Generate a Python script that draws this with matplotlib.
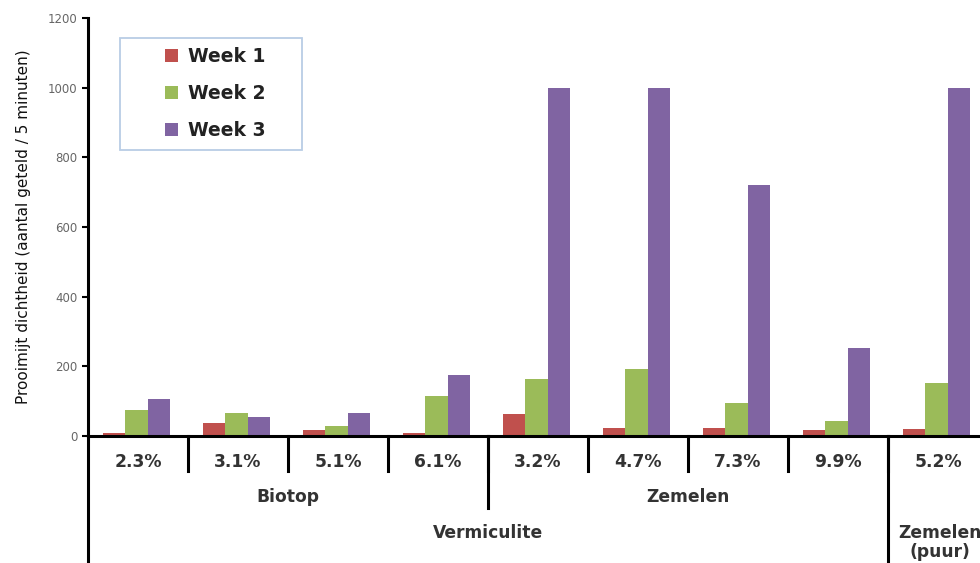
import matplotlib
matplotlib.use("Agg")
import matplotlib.pyplot as plt
import matplotlib.transforms as mtransforms
from matplotlib.patches import Rectangle
import numpy as np

categories = ["2.3%", "3.1%", "5.1%", "6.1%", "3.2%", "4.7%", "7.3%", "9.9%", "5.2%"]
week1 = [8, 38, 18, 10, 63, 24, 22, 16, 19]
week2 = [75, 65, 30, 115, 163, 192, 94, 43, 153]
week3 = [105, 55, 65, 175, 1000, 1000, 721, 252, 1000]
series_names = ["Week 1", "Week 2", "Week 3"]
colors = ["#C0504D", "#9BBB59", "#8064A2"]

level2 = [("Biotop", 0, 3), ("Zemelen", 4, 7)]
level3 = [("Vermiculite", 0, 7), ("Zemelen\n(puur)", 8, 8)]

fig = plt.figure(figsize=(9.8, 5.63), dpi=100)
ax = fig.add_axes([88/980, (563-436)/563, 1 - 88/980, 418/563])

x = np.arange(len(categories))
w = 0.225
for k, (vals, name, c) in enumerate(zip([week1, week2, week3], series_names, colors)):
    ax.bar(x + (k - 1) * w - 0.015, vals, width=w, color=c, label=name, zorder=2)

ax.set_ylim(0, 1200)
ax.set_xlim(-0.5, -0.5 + (980 - 88) / 100)
ax.set_yticks(range(0, 1201, 200))
ax.tick_params(axis='y', labelsize=8.5, labelcolor='#666666', length=4, width=1.5, direction='out')
ax.set_xticks([])
for s in ['top', 'right']:
    ax.spines[s].set_visible(False)
ax.spines['left'].set_linewidth(2.2)
ax.spines['bottom'].set_linewidth(2.2)
ax.set_ylabel("Prooimijt dichtheid (aantal geteld / 5 minuten)",
              fontsize=11, labelpad=12, color='#111111')

trans = mtransforms.blended_transform_factory(ax.transData, fig.transFigure)
def fy(px):
    return (563 - px) / 563

txtkw = dict(transform=trans, ha='center', va='center', fontsize=12.3,
             color='#333333', fontweight='bold')

# y axis continues down
ax.plot([-0.5, -0.5], [fy(436), 0], transform=trans, color='black', lw=2.2, clip_on=False)
# level-1 separators
for i in range(len(categories)):
    ax.plot([i + 0.5, i + 0.5], [fy(436), fy(471)], transform=trans, color='black', lw=2.2, clip_on=False)
for i, c in enumerate(categories):
    ax.text(i, fy(462), c, **txtkw)
# level-2
for name, a, b in level2:
    ax.text((a + b) / 2, fy(497), name, **txtkw)
ax.plot([3.5, 3.5], [fy(436), fy(508)], transform=trans, color='black', lw=2.2, clip_on=False)
# level-3
for name, a, b in level3:
    if '\n' in name:
        ax.text((a + b) / 2 + 0.02, fy(524), name, transform=trans, ha='center', va='top',
                fontsize=12.3, color='#333333', fontweight='bold', linespacing=1.05)
    else:
        ax.text((a + b) / 2, fy(533), name, **txtkw)
ax.plot([7.5, 7.5], [fy(436), 0], transform=trans, color='black', lw=2.2, clip_on=False)

# legend frame
ax.add_patch(Rectangle((120/980, fy(150)), 182/980, 112/563, transform=fig.transFigure,
                       facecolor='white', edgecolor='#B9CDE5', lw=1.3, zorder=3, clip_on=False))
leg = ax.legend(loc='upper left', bbox_to_anchor=((165-88)/892, (436-47)/418), borderaxespad=0,
                frameon=False, labelspacing=0.95, borderpad=0,
                handlelength=0.7, handleheight=0.7, handletextpad=0.55,
                prop={'weight': 'bold', 'size': 13.5})
leg.set_zorder(5)
for t in leg.get_texts():
    t.set_color('#222222')

fig.savefig("out.png", dpi=100)
